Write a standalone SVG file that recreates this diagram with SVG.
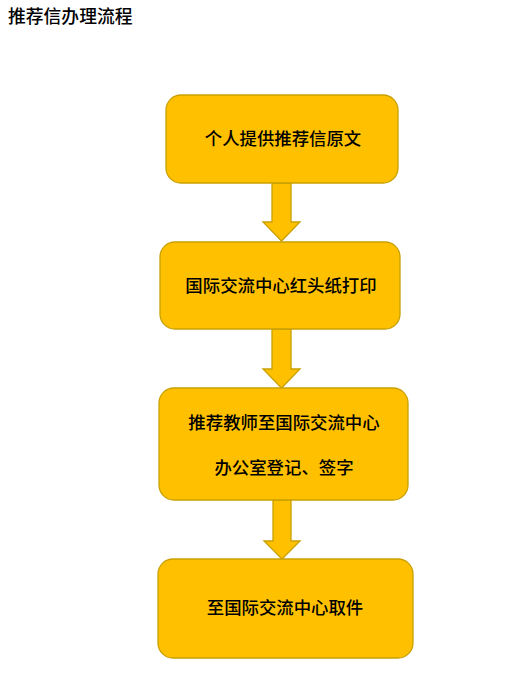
<svg xmlns="http://www.w3.org/2000/svg" width="520" height="677" viewBox="0 0 520 677">
<style>
.box{fill:#FFC000;stroke:#C9A000;stroke-width:1.3}
.arr{fill:#FFC000;stroke:#C9A000;stroke-width:1.3;stroke-linejoin:miter}
.t{font-family:"Noto Sans CJK SC","Liberation Sans",sans-serif;font-size:17.4px;font-weight:500;fill:#000;text-anchor:middle}
.title{font-family:"Noto Sans CJK SC","Liberation Sans",sans-serif;font-size:17.8px;font-weight:500;fill:#000}
</style>
<rect width="520" height="677" fill="#fff"/>
<text class="title" x="8" y="23">推荐信办理流程</text>
<g id="connectors">
<polygon class="arr" points="272,183 291,183 291,222 300,222 281.5,241 263,222 272,222"/>
<polygon class="arr" points="272,329 291,329 291,369 300,369 281.5,388 263,369 272,369"/>
<polygon class="arr" points="273,500 291,500 291,541 300,541 282,559 264,541 273,541"/>
</g>
<g id="n1">
<rect class="box" x="166" y="95" width="232" height="88" rx="15"/>
<text class="t" x="283" y="145">个人提供推荐信原文</text>
</g>
<g id="n2">
<rect class="box" x="160" y="242" width="240" height="87" rx="15"/>
<text class="t" x="281" y="292">国际交流中心红头纸打印</text>
</g>
<g id="n3">
<rect class="box" x="159" y="388" width="249" height="112" rx="15"/>
<text class="t" x="284" y="429">推荐教师至国际交流中心</text>
<text class="t" x="284" y="474">办公室登记、签字</text>
</g>
<g id="n4">
<rect class="box" x="158" y="559" width="255" height="99" rx="15"/>
<text class="t" x="285" y="614">至国际交流中心取件</text>
</g>
</svg>
